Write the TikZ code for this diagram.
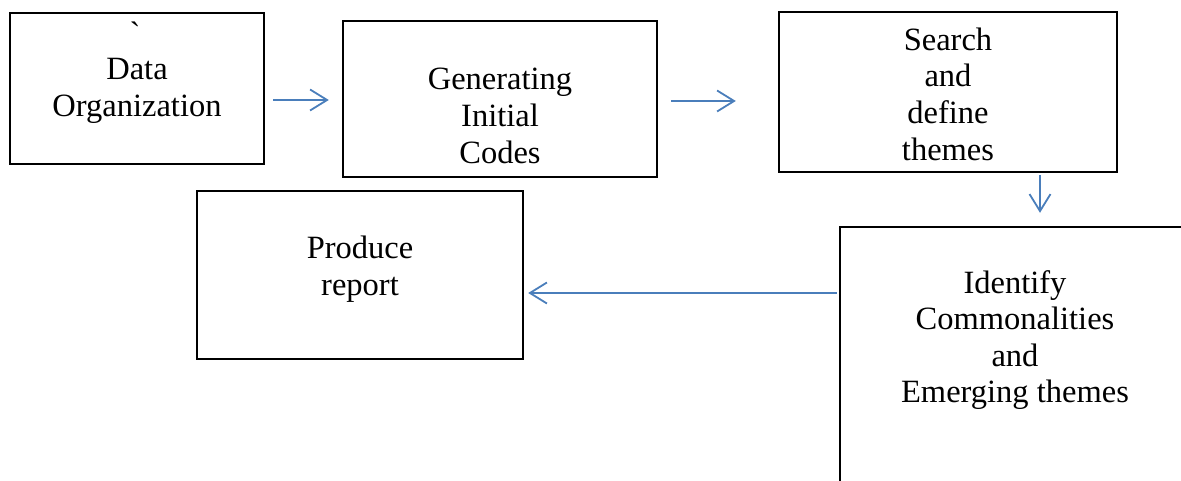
\documentclass[tikz,border=0pt]{standalone}
\usepackage{fontspec}
\setmainfont{Liberation Serif}
\newfontfamily\plainserif{Liberation Serif}[Ligatures=TeXOff]
\usetikzlibrary{arrows.meta}
\definecolor{arrblue}{RGB}{74,126,187}
\begin{document}
\begin{tikzpicture}[x=1pt,y=-1pt,
  box/.style={draw=black,line width=2.4pt,inner sep=0pt,minimum width=#1},
  txt/.style={align=center,font=\fontsize{32.5}{36.6}\selectfont,inner sep=0pt},
  arr/.style={draw=arrblue,line width=1.8pt,-{Straight Barb[length=17pt,width=21pt,line width=1.8pt]}}]
\useasboundingbox (0,0) rectangle (1181,481);
\clip (0,0) rectangle (1181,481);
% boxes
\node[box=254pt,minimum height=151pt] (b1) at (137,88.5) {};
\node[box=314pt,minimum height=156pt] (b2) at (500,99) {};
\node[box=338pt,minimum height=160pt] (b3) at (948,92) {};
\node[box=326pt,minimum height=168pt] (b4) at (360,275) {};
\node[box=400pt,minimum height=300pt] (b5) at (1040,377) {};
% texts
\node[txt] (tick) at (135,33) {\plainserif\fontsize{32.5}{36.6}\selectfont\symbol{96}};
\node[txt] (t1) at (137,91) {Data\\Organization};
\node[txt] (t2) at (500,116) {Generating\\Initial\\Codes};
\node[txt] (t3) at (948,94) {Search\\and\\define\\themes};
\node[txt] (t4) at (360,269) {Produce\\report};
\node[txt] (t5) at (1015,340) {Identify\\Commonalities\\and\\Emerging themes};
% arrows
\draw[arr] ([xshift=8pt]b1.east |- 0,100) -- ([xshift=-13pt]b2.west |- 0,100);
\draw[arr] ([xshift=13pt]b2.east |- 0,101) -- ([xshift=-42pt]b3.west |- 0,101);
\draw[arr] ([yshift=-2pt]b3.south -| 1040,0) -- ([yshift=13pt]b5.north -| 1040,0);
\draw[arr] ([xshift=-2pt]b5.west |- 0,293) -- ([xshift=4pt]b4.east |- 0,293);
\end{tikzpicture}
\end{document}
